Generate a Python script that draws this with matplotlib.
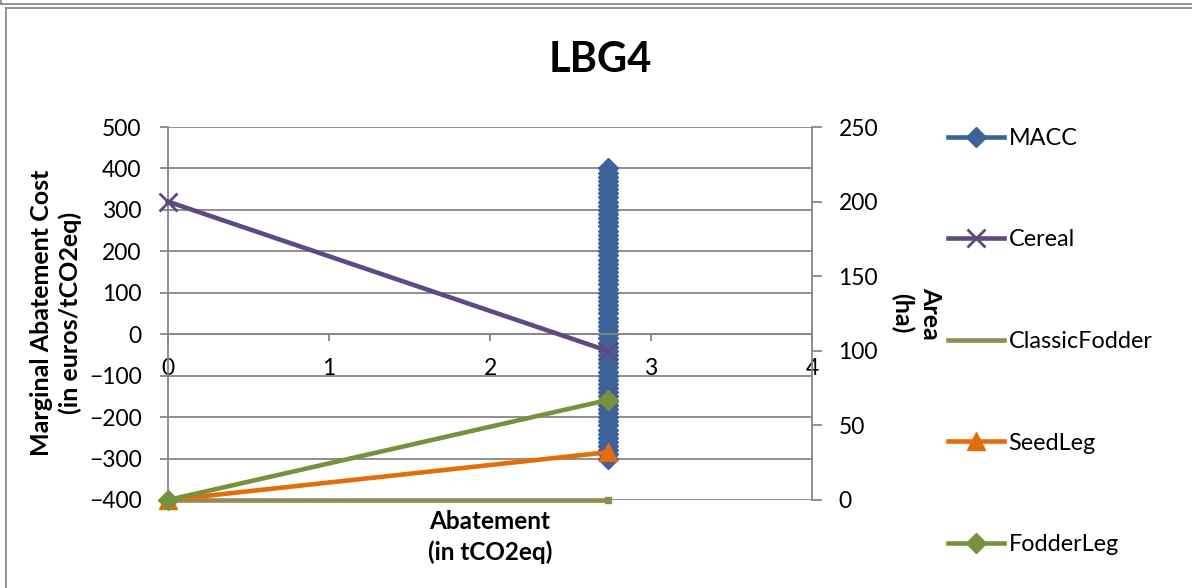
import matplotlib
matplotlib.use("Agg")
import matplotlib.pyplot as plt
from matplotlib.lines import Line2D
import numpy as np

plt.rcParams['font.family'] = ['Lato', 'DejaVu Sans']

# ---- data ----
abatement = [0.0, 2.73]
cereal = [200, 100]          # ha, secondary axis
classic_fodder = [0, 0]      # ha
seed_leg = [0, 32]           # ha
fodder_leg = [0, 67]         # ha

macc_abatement = 2.73
macc_cost = [-300, -290, -280, -270, -260, -250, -240, -230, -220, -210,
             -200, -190, -180, -170, -160, -150, -140, -130, -120, -110,
             -100, -90, -80, -70, -60, -50, -40, -30, -20, -10,
             0, 10, 20, 30, 40, 50, 60, 70, 80, 90,
             100, 110, 120, 130, 140, 150, 160, 170, 180, 190,
             200, 210, 220, 230, 240, 250, 260, 270, 280, 290,
             300, 310, 320, 330, 340, 350, 360, 370, 380, 390, 400]

x_ticks = [0, 1, 2, 3, 4]
cost_ticks = [-400, -300, -200, -100, 0, 100, 200, 300, 400, 500]
area_ticks = [0, 50, 100, 150, 200, 250]

# ---- styling ----
C_MACC = '#3b6399'
C_CEREAL = '#5f4a7f'
C_CLASSIC = '#948a54'
C_SEED = '#e46c0a'
C_FODDER = '#76923c'
GRID = '#868686'

W, H = 1192, 588
fig = plt.figure(figsize=(W / 100, H / 100), dpi=100)

def fx(px):
    return px / W

def fy(py):
    return 1 - py / H

# chart-area frame lines
for xs, ys in [((0, W), (3.5, 3.5)), ((0.8, 0.8), (0, 3.5)),
               ((5.5, W), (7.5, 7.5)), ((5.5, 5.5), (7.5, H))]:
    fig.add_artist(Line2D([fx(v) for v in xs], [fy(v) for v in ys],
                          color='#8c8c8c', lw=1.3))

left, right, top, bottom = 168, 812, 127, 500
ax = fig.add_axes([fx(left), fy(bottom), fx(right - left), (bottom - top) / H])
ax2 = ax.twinx()

# primary axis: cost
ax.set_xlim(0, 4)
ax.set_ylim(-400, 500)
ax.set_yticks(cost_ticks)
ax.set_xticks(x_ticks)
ax.yaxis.grid(True, color=GRID, lw=1.3)
ax.set_axisbelow(True)
for s in ['top', 'right']:
    ax.spines[s].set_visible(False)
ax.spines['left'].set_color(GRID)
ax.spines['left'].set_linewidth(1.3)
ax.spines['bottom'].set_position(('data', 0))
ax.spines['bottom'].set_color(GRID)
ax.spines['bottom'].set_linewidth(1.3)
ax.tick_params(axis='y', direction='out', length=6, width=1.3, color=GRID,
               labelsize=16.5, pad=13)
ax.tick_params(axis='x', direction='out', length=5, width=1.3, color=GRID,
               labelsize=16.5, pad=12)

# secondary axis: area
ax2.set_ylim(0, 250)
ax2.set_yticks(area_ticks)
for s in ['top', 'left', 'bottom']:
    ax2.spines[s].set_visible(False)
ax2.spines['right'].set_color(GRID)
ax2.spines['right'].set_linewidth(1.3)
ax2.tick_params(axis='y', direction='out', length=7, width=1.3, color=GRID,
                labelsize=16.5, pad=12)

# series
h_macc, = ax.plot(np.full(len(macc_cost), macc_abatement), macc_cost,
                  color=C_MACC, lw=3.3, marker='D', ms=10.5, mec=C_MACC,
                  mfc=C_MACC, label='MACC', clip_on=False)
h_cer, = ax2.plot(abatement, cereal, color=C_CEREAL, lw=3.3, marker='x',
                  ms=13, mew=2, label='Cereal', clip_on=False, zorder=3)
h_cla, = ax2.plot(abatement, classic_fodder, color=C_CLASSIC, lw=3.3,
                  label='ClassicFodder', clip_on=False, zorder=3)
ax2.plot(abatement[-1:], classic_fodder[-1:], ls='none', marker='s', ms=5,
         color=C_CLASSIC, clip_on=False, zorder=3)
h_seed, = ax2.plot(abatement, seed_leg, color=C_SEED, lw=3.3, marker='^',
                   ms=13, label='SeedLeg', clip_on=False, zorder=4)
h_fod, = ax2.plot(abatement, fodder_leg, color=C_FODDER, lw=3.3, marker='D',
                  ms=10, label='FodderLeg', clip_on=False, zorder=5)

# titles and axis labels
fig.text(fx(600), fy(60), 'LBG4', ha='center', va='center',
         fontsize=30, fontweight='bold')
fig.text(fx(56), fy(313), 'Marginal Abatement Cost\n(in euros/tCO2eq)',
         rotation=90, ha='center', va='center', fontsize=18,
         fontweight='bold', linespacing=1.3, multialignment='center')
fig.text(fx(490), fy(537), 'Abatement\n(in tCO2eq)', ha='center',
         va='center', fontsize=17.5, fontweight='bold', linespacing=1.35)
fig.text(fx(916), fy(313), 'Area\n(ha)', rotation=270, ha='center',
         va='center', fontsize=18, fontweight='bold', linespacing=1.25,
         multialignment='center')

fig.legend(handles=[h_macc, h_cer, h_cla, h_seed, h_fod],
           loc='upper left', bbox_to_anchor=(fx(948), fy(128)),
           frameon=False, fontsize=16.8, handlelength=2.4, handletextpad=0.2,
           labelspacing=3.45, borderaxespad=0, borderpad=0)

fig.savefig('out.png', dpi=100)
